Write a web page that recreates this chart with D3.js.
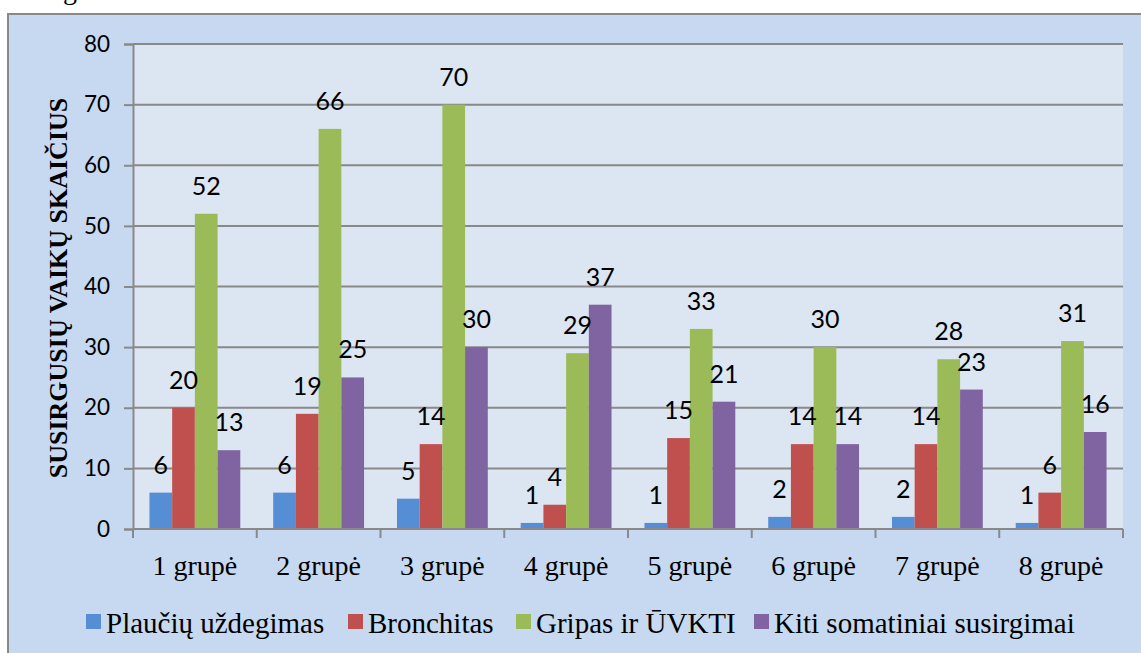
<!DOCTYPE html>
<html>
<head>
<meta charset="utf-8">
<script src="https://cdn.jsdelivr.net/npm/d3@7"></script>
<style>
  body { margin: 0; background: #fff; }
  svg { display: block; }
  .serif { font-family: "Liberation Serif", "Times New Roman", Times, "DejaVu Serif", serif; }
  .sans { font-family: Lato, "Open Sans", sans-serif; }
</style>
</head>
<body>
<div id="chart"></div>
<script>
// data
var groups = ["1 grupė", "2 grupė", "3 grupė", "4 grupė", "5 grupė", "6 grupė", "7 grupė", "8 grupė"];
var seriesNames = ["Plaučių uždegimas", "Bronchitas", "Gripas ir ŪVKTI", "Kiti somatiniai susirgimai"];
var plauciu = [6, 6, 5, 1, 1, 2, 2, 1];
var bronchitas = [20, 19, 14, 4, 15, 14, 14, 6];
var gripas = [52, 66, 70, 29, 33, 30, 28, 31];
var kiti = [13, 25, 30, 37, 21, 14, 23, 16];
var yTicks = [0, 10, 20, 30, 40, 50, 60, 70, 80];
var colors = ["#558ED5", "#C0504D", "#9BBB59", "#8064A2"];

var seriesValues = [plauciu, bronchitas, gripas, kiti];

var W = 1141, H = 653;
var margin = {top: 44, left: 133, right: 1141 - 1123, bottom: 653 - 529};
var width = W - margin.left - margin.right,
    height = H - margin.top - margin.bottom;

var svg = d3.select("#chart").append("svg")
    .attr("width", W)
    .attr("height", H);

// text cut off above the chart
svg.append("text")
    .attr("class", "serif")
    .attr("x", 63)
    .attr("y", -1)
    .style("font-size", "28px")
    .text("g");

// outer chart box
svg.append("rect")
    .attr("x", 8)
    .attr("y", 14)
    .attr("width", W + 10)
    .attr("height", H + 10)
    .attr("fill", "#C6D9F1")
    .attr("stroke", "#898989")
    .attr("stroke-width", 2);

var g = svg.append("g")
    .attr("transform", "translate(" + margin.left + "," + margin.top + ")");

// plot area
g.append("rect")
    .attr("width", width)
    .attr("height", height)
    .attr("fill", "#DCE6F2");

var x0 = d3.scaleBand()
    .domain(groups)
    .range([0, width])
    .padding(0);

var x1 = d3.scaleBand()
    .domain(seriesNames)
    .range([0, x0.bandwidth()])
    .paddingInner(0)
    .paddingOuter(0.725);

var y = d3.scaleLinear()
    .domain([0, 80])
    .range([height, 0]);

// gridlines
g.selectAll("line.grid")
    .data(yTicks.slice(1))
    .enter().append("line")
    .attr("class", "grid")
    .attr("x1", 0)
    .attr("x2", width)
    .attr("y1", function(d) { return y(d); })
    .attr("y2", function(d) { return y(d); })
    .attr("stroke", "#898989")
    .attr("stroke-width", 2);

// y axis
var yAxis = g.append("g")
    .call(d3.axisLeft(y).tickValues(yTicks).tickSize(9).tickPadding(14));
yAxis.attr("font-family", null).attr("font-size", null);
yAxis.select(".domain").attr("stroke", "#898989").attr("stroke-width", 2);
yAxis.selectAll(".tick line").attr("stroke", "#898989").attr("stroke-width", 2);
yAxis.selectAll(".tick text")
    .attr("class", "sans")
    .style("font-size", "22.5px")
    .attr("fill", "#000");

// bars
var groupSel = g.selectAll("g.group")
    .data(groups)
    .enter().append("g")
    .attr("class", "group")
    .attr("transform", function(d) { return "translate(" + x0(d) + ",0)"; });

groupSel.selectAll("rect")
    .data(function(d, i) {
        return seriesNames.map(function(s, j) { return {s: s, v: seriesValues[j][i], c: colors[j]}; });
    })
    .enter().append("rect")
    .attr("x", function(d) { return x1(d.s); })
    .attr("y", function(d) { return y(d.v); })
    .attr("width", x1.bandwidth())
    .attr("height", function(d) { return height - y(d.v); })
    .attr("fill", function(d) { return d.c; });

// data labels
groupSel.selectAll("text")
    .data(function(d, i) {
        return seriesNames.map(function(s, j) { return {s: s, v: seriesValues[j][i]}; });
    })
    .enter().append("text")
    .attr("class", "sans")
    .attr("x", function(d) { return x1(d.s) + x1.bandwidth() / 2; })
    .attr("y", function(d) { return y(d.v) - 19; })
    .attr("text-anchor", "middle")
    .style("font-size", "25px")
    .text(function(d) { return d.v; });

// x axis
var xAxis = g.append("g")
    .attr("transform", "translate(0," + height + ")");
xAxis.append("line")
    .attr("x1", 0).attr("x2", width)
    .attr("stroke", "#898989").attr("stroke-width", 2);
xAxis.selectAll("line.tick")
    .data(d3.range(groups.length + 1))
    .enter().append("line")
    .attr("class", "tick")
    .attr("x1", function(d) { return d * x0.step(); })
    .attr("x2", function(d) { return d * x0.step(); })
    .attr("y1", 0).attr("y2", 9)
    .attr("stroke", "#898989").attr("stroke-width", 2);
xAxis.selectAll("text")
    .data(groups)
    .enter().append("text")
    .attr("class", "serif")
    .attr("x", function(d) { return x0(d) + x0.bandwidth() / 2; })
    .attr("y", 46)
    .attr("text-anchor", "middle")
    .style("font-size", "28px")
    .text(function(d) { return d; });

// y axis title
svg.append("text")
    .attr("class", "serif")
    .attr("transform", "translate(67,288) rotate(-90)")
    .attr("text-anchor", "middle")
    .style("font-size", "26px")
    .style("font-weight", "bold")
    .text("SUSIRGUSIŲ VAIKŲ SKAIČIUS");

// legend
var legendX = [86, 348, 516, 754];
var legend = svg.selectAll("g.legend")
    .data(seriesNames)
    .enter().append("g")
    .attr("class", "legend")
    .attr("transform", function(d, i) { return "translate(" + legendX[i] + ",614)"; });
legend.append("rect")
    .attr("width", 15)
    .attr("height", 15)
    .attr("fill", function(d, i) { return colors[i]; });
legend.append("text")
    .attr("class", "serif")
    .attr("x", 20)
    .attr("y", 19)
    .style("font-size", "29px")
    .text(function(d) { return d; });
</script>
</body>
</html>
